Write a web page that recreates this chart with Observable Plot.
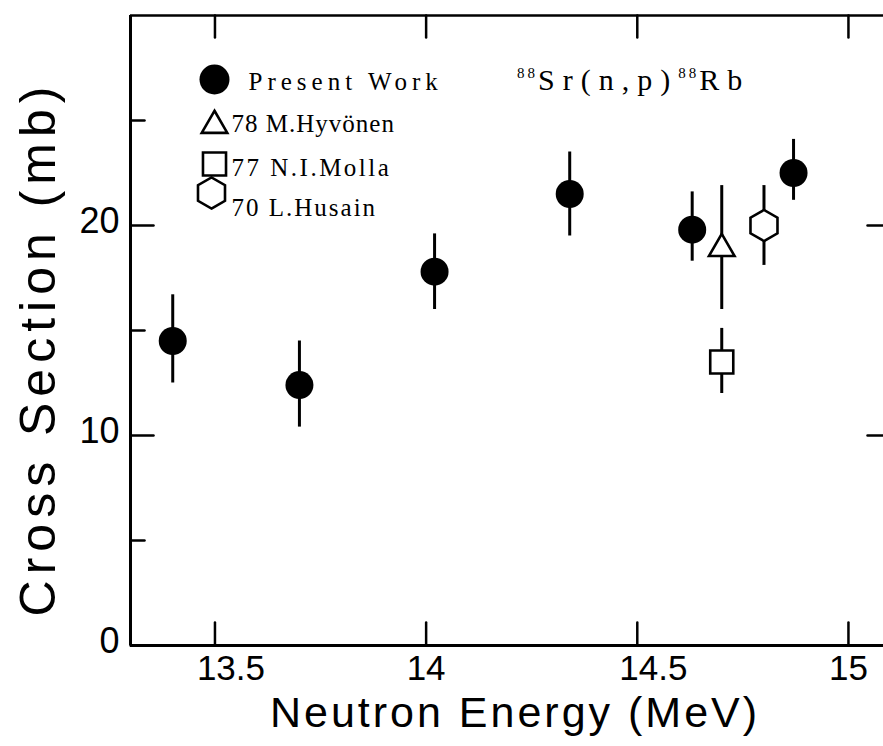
<!DOCTYPE html>
<html>
<head>
<meta charset="utf-8">
<script src="https://cdn.jsdelivr.net/npm/d3@7"></script>
<script src="https://cdn.jsdelivr.net/npm/@observablehq/plot@0.6"></script>
<style>
  body { margin: 0; background: #fff; }
  #chart { width: 883px; height: 746px; }
</style>
</head>
<body>
<div id="chart"></div>
<script>
// ---- axis settings ----
const xDomain = [13.3, 15.083];
const yDomain = [0, 30];
const xTicksInt = [14, 15];
const xTicksHalf = [13.5, 14.5];
const xTicks = [13.5, 14, 14.5, 15];
const yMajor = [0, 10, 20];
const yMinor = [5, 15, 25];
const xTitle = "Neutron Energy (MeV)";
const yTitle = "Cross Section (mb)";

// ---- Present Work (filled circles) ----
const presentE  = [13.40, 13.70, 14.02, 14.34, 14.63, 14.87];
const presentV  = [14.5, 12.4, 17.8, 21.5, 19.8, 22.5];
const presentLo = [12.5, 10.4, 16.0, 19.5, 18.3, 21.2];
const presentHi = [16.7, 14.5, 19.6, 23.5, 21.6, 24.1];

// ---- Other references ----
const refNames = ["78 M.Hyvönen", "77 N.I.Molla", "70 L.Husain"];
const refE  = [14.70, 14.70, 14.80];
const refV  = [18.9, 13.5, 20.0];
const refLo = [16.0, 12.0, 18.1];
const refHi = [21.9, 15.1, 21.9];

const present = presentE.map((e, i) => ({e, v: presentV[i], lo: presentLo[i], hi: presentHi[i]}));
const refs = refNames.map((name, i) => ({name, e: refE[i], v: refV[i], lo: refLo[i], hi: refHi[i]}));

// style per reference
const refStyle = {
  "78 M.Hyvönen": {symbol: "triangle", r: 9.5},
  "77 N.I.Molla": {symbol: "square", r: 13},
  "70 L.Husain":  {symbol: "hexagon", r: 13.5}
};
const legendOffsets = {
  "78 M.Hyvönen": {sx: 84, sy: 110, ty: 108},
  "77 N.I.Molla": {sx: 84, sy: 148.5, ty: 152},
  "70 L.Husain":  {sx: 81, sy: 177.5, ty: 192}
};

// inward tick shapes
const tickUp = {draw(c, l) { c.moveTo(0, 0); c.lineTo(0, -l); }};
const tickDown = {draw(c, l) { c.moveTo(0, 0); c.lineTo(0, l); }};
const tickRight = {draw(c, l) { c.moveTo(0, 0); c.lineTo(l, 0); }};
const tickLeft = {draw(c, l) { c.moveTo(0, 0); c.lineTo(-l, 0); }};

const marks = [
  // frame lines
  Plot.ruleX([xDomain[0]], {strokeWidth: 3}),
  Plot.ruleY([yDomain[0]], {strokeWidth: 3}),
  Plot.ruleY([yDomain[1]], {strokeWidth: 2.5}),
  // inward ticks
  Plot.vector(xTicks, {x: d => d, frameAnchor: "bottom", length: 23, shape: tickUp, anchor: "start", strokeWidth: 2.5}),
  Plot.vector(xTicks, {x: d => d, frameAnchor: "top", length: 22, shape: tickDown, anchor: "start", strokeWidth: 2.5}),
  Plot.vector(yMajor, {y: d => d, frameAnchor: "left", length: 23, shape: tickRight, anchor: "start", strokeWidth: 2.5}),
  Plot.vector(yMinor, {y: d => d, frameAnchor: "left", length: 14, shape: tickRight, anchor: "start", strokeWidth: 2.5}),
  Plot.vector(yMajor.filter(d => d > 0), {y: d => d, frameAnchor: "right", length: 16, shape: tickLeft, anchor: "start", strokeWidth: 2.5}),
  // tick labels
  Plot.axisX({ticks: xTicksInt, tickSize: 0, tickPadding: 10, fontSize: 35, tickFormat: d => String(d), label: null}),
  Plot.axisX({ticks: xTicksHalf, tickSize: 0, tickPadding: 10, fontSize: 35, dx: 16, tickFormat: d => String(d), label: null}),
  Plot.axisY({ticks: yMajor, tickSize: 0, tickPadding: 11, fontSize: 36, dy: -4, tickFormat: d => String(d), label: null}),
  // axis titles
  Plot.text([xTitle], {x: null, y: null, text: d => d, frameAnchor: "bottom", textAnchor: "middle", lineAnchor: "middle", dy: 68, dx: 8, fontSize: 43}),
  Plot.text([yTitle], {x: null, y: null, text: d => d, frameAnchor: "left", textAnchor: "middle", lineAnchor: "middle", rotate: -90, dx: -92, dy: 18, fontSize: 50}),
  // error bars
  Plot.ruleX(present, {x: "e", y1: "lo", y2: "hi", strokeWidth: 3}),
  Plot.ruleX(refs, {x: "e", y1: "lo", y2: "hi", strokeWidth: 3}),
  // points
  Plot.dot(present, {x: "e", y: "v", r: 14, fill: "black", stroke: null}),
  ...refNames.map(n => Plot.dot(refs.filter(d => d.name === n), {
    x: "e", y: "v", symbol: refStyle[n].symbol, r: refStyle[n].r, fill: "white", stroke: "black", strokeWidth: 2.6
  })),
  // legend
  Plot.dot([0], {x: null, y: null, frameAnchor: "top-left", dx: 84, dy: 64, r: 15, fill: "black", stroke: null}),
  Plot.text(["Present Work"], {x: null, y: null, text: d => d, frameAnchor: "top-left", dx: 118, dy: 66, textAnchor: "start", lineAnchor: "middle", fontSize: 25, fontFamily: "Liberation Serif, serif"}),
  ...refNames.map(n => Plot.dot([0], {
    x: null, y: null, frameAnchor: "top-left", dx: legendOffsets[n].sx, dy: legendOffsets[n].sy,
    symbol: refStyle[n].symbol, r: refStyle[n].r, fill: "white", stroke: "black", strokeWidth: 2.6
  })),
  ...refNames.map(n => Plot.text([n], {
    x: null, y: null, text: d => d, frameAnchor: "top-left", dx: 101, dy: legendOffsets[n].ty,
    textAnchor: "start", lineAnchor: "middle", fontSize: 25, fontFamily: "Liberation Serif, serif"
  }))
];

const chart = Plot.plot({
  width: 883,
  height: 746,
  marginLeft: 130,
  marginRight: 0,
  marginTop: 15,
  marginBottom: 101,
  style: {fontFamily: "Liberation Sans, Arial, sans-serif", background: "white", color: "black"},
  x: {domain: xDomain, label: null},
  y: {domain: yDomain, label: null},
  marks
});

// letter spacing of the typeset labels
const spacing = {[xTitle]: 3, [yTitle]: 6, "Present Work": 5, "78 M.Hyvönen": 1, "77 N.I.Molla": 2.5, "70 L.Husain": 2};
d3.select(chart).selectAll("text").each(function() {
  const s = spacing[this.textContent];
  if (s !== undefined) this.setAttribute("letter-spacing", s);
});

// reaction title with superscripts
const t = d3.select(chart).append("text")
  .attr("x", 517).attr("y", 90)
  .attr("text-anchor", "start")
  .attr("font-family", "Liberation Serif, serif")
  .attr("font-size", 30)
  .attr("fill", "black");
t.append("tspan").attr("font-size", 15).attr("dy", -12).attr("letter-spacing", 3).text("88");
t.append("tspan").attr("dy", 12).attr("letter-spacing", 8).text("Sr(n,p)");
t.append("tspan").attr("font-size", 15).attr("dy", -12).attr("letter-spacing", 3).text("88");
t.append("tspan").attr("dy", 12).attr("letter-spacing", 8).text("Rb");

document.getElementById("chart").appendChild(chart);
</script>
</body>
</html>
